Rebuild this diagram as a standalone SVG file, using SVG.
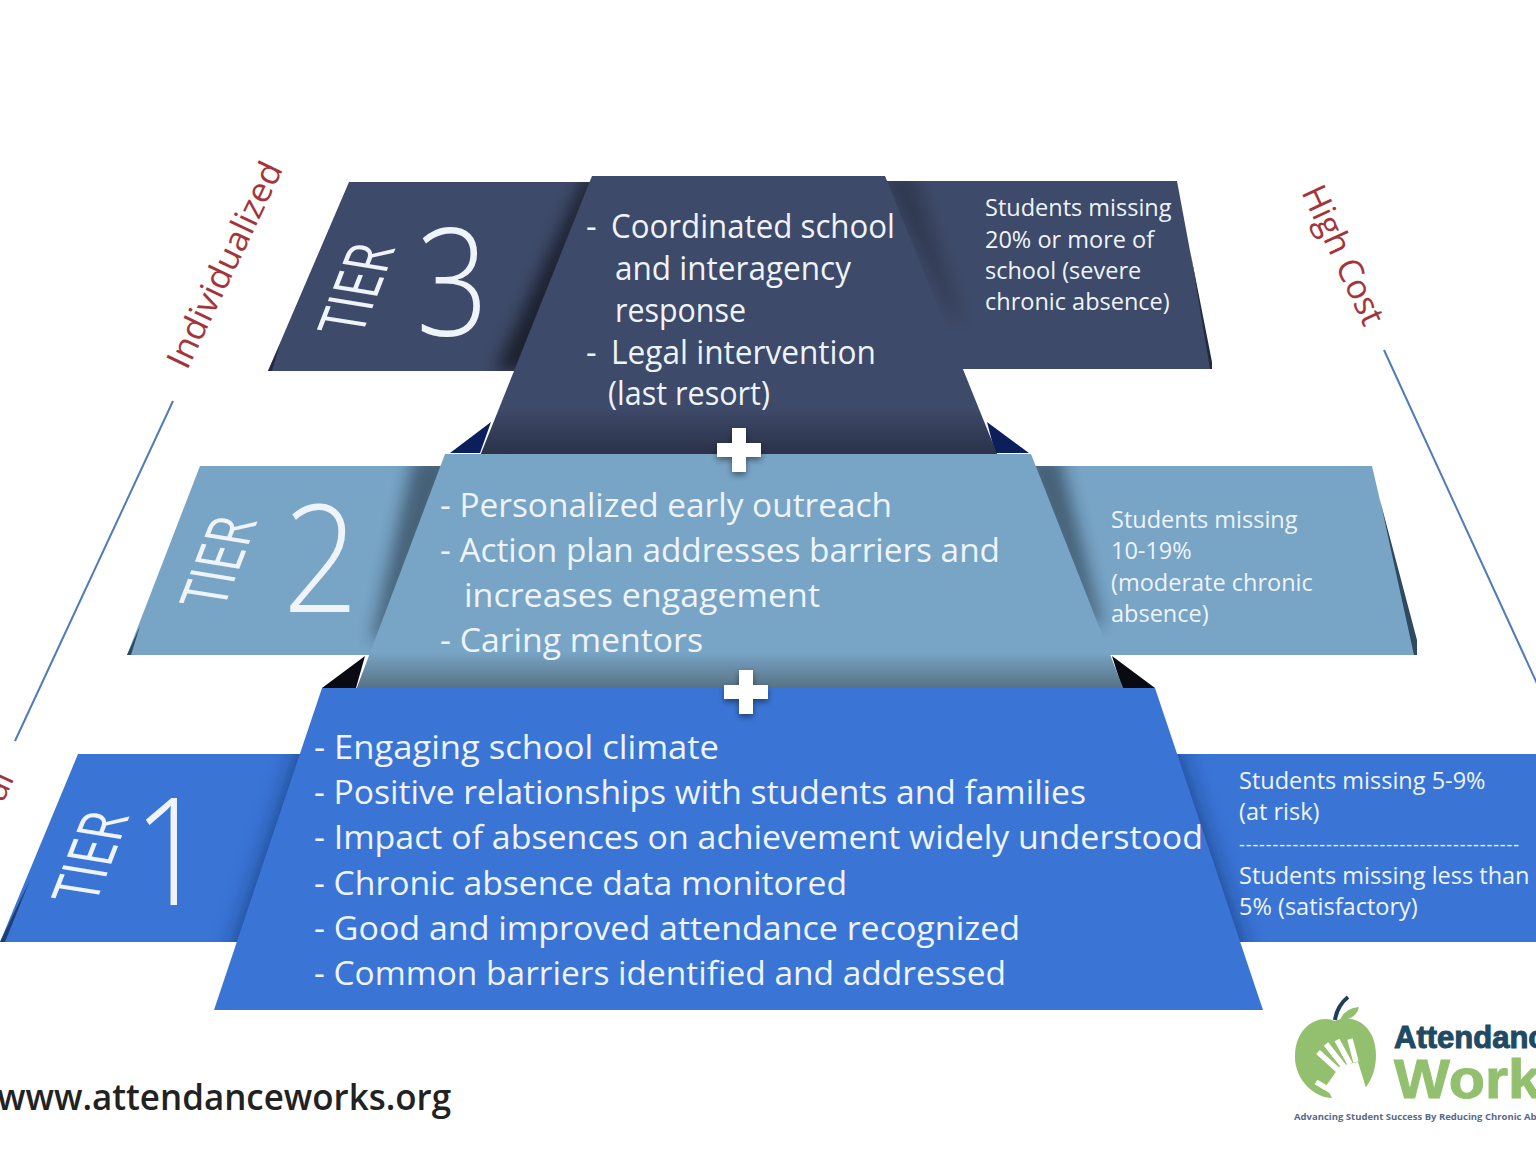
<svg xmlns="http://www.w3.org/2000/svg" width="1536" height="1152" viewBox="0 0 1536 1152">
<defs>
<style>
text{font-family:"Open Sans","Noto Sans","Liberation Sans",sans-serif;fill:#eef4fa}
.m{font-size:33px}
.s{font-size:23.5px}
.t{font-size:62px;font-weight:500}
.n{font-size:150px;font-weight:300}
.r{font-size:34px;fill:#a4343a;font-weight:400}
.w{font-size:36px;fill:#222;font-weight:600}
.ln{stroke:#4f7cb8;stroke-width:2;fill:none}
.logo{font-family:"Liberation Sans",Arial,sans-serif;font-weight:700;stroke-width:1}
.edge3{fill:#232b40}
.edge2{fill:#2f4a5e}
.edge1{fill:#1f3d72}
</style>
<linearGradient id="g3" x1="0" y1="0" x2="0" y2="1"><stop offset="0.83" stop-color="#3e4a69"/><stop offset="1" stop-color="#2a3147"/></linearGradient>
<linearGradient id="g2" x1="0" y1="0" x2="0" y2="1"><stop offset="0.84" stop-color="#78a4c6"/><stop offset="1" stop-color="#566f80"/></linearGradient>
<filter id="sh" x="-40%" y="-40%" width="180%" height="180%"><feDropShadow dx="0" dy="3" stdDeviation="3" flood-color="#000" flood-opacity="0.45"/></filter>
<filter id="bl" x="-10%" y="-10%" width="120%" height="120%"><feGaussianBlur stdDeviation="12"/></filter>
<filter id="bs" x="-50%" y="-20%" width="200%" height="140%"><feGaussianBlur stdDeviation="8"/></filter>
<clipPath id="c3"><path d="M349 182H600L530 371H268Z M885 181H1177L1212 369H950Z"/></clipPath>
<clipPath id="c2"><path d="M200 466H460L380 655H127Z M1020 466H1372L1416 655H1100Z"/></clipPath>
<clipPath id="c1"><path d="M78 754H320L260 942H0Z M1160 754H1536V942H1215Z"/></clipPath>
<path id="plus" d="M-7-22H7V-7H22V7H7V22H-7V7H-22V-7H-7Z" fill="#fff" filter="url(#sh)"/>
</defs>
<rect width="1536" height="1152" fill="#fff"/>

<g id="connectors">
<line class="ln" x1="173" y1="401" x2="15" y2="741"/>
<line class="ln" x1="1384" y1="350" x2="1540" y2="690"/>
</g>

<g id="tier3">
<path d="M349 182H600L530 371H268Z M885 181H1177L1212 369H950Z" fill="#3e4a69"/>
<path class="edge3" d="M268 371L280 344L272 371Z M1190 250L1212 362V369H1210Z"/>
<g clip-path="url(#c3)">
<path d="M585 176H600L530 371H495Z" fill="#000" opacity="0.55" filter="url(#bs)"/>
<path d="M880 176H915L960 320H955Z" fill="#000" opacity="0.22" filter="url(#bs)"/>
</g>
<path d="M450 453L491 422L480 453Z M987 422L1029 453H995Z" fill="#0b1f5c"/>
<path d="M592 176H885L998 456H480Z" fill="url(#g3)"/>
<text class="t" transform="matrix(.28 -.72 1 .16 361 337)">TIER</text>
<text class="n" transform="translate(416 336) scale(.85 1)">3</text>
<text class="m" x="586" y="238">-</text>
<text class="m" x="611" y="238" textLength="284" lengthAdjust="spacingAndGlyphs">Coordinated school</text>
<text class="m" x="615" y="280" textLength="236" lengthAdjust="spacingAndGlyphs">and interagency</text>
<text class="m" x="615" y="322" textLength="131" lengthAdjust="spacingAndGlyphs">response</text>
<text class="m" x="586" y="364">-</text>
<text class="m" x="611" y="364" textLength="265" lengthAdjust="spacingAndGlyphs">Legal intervention</text>
<text class="m" x="608" y="405" textLength="162" lengthAdjust="spacingAndGlyphs">(last resort)</text>
<text class="s" x="985" y="216">Students missing</text>
<text class="s" x="985" y="248">20% or more of</text>
<text class="s" x="985" y="279">school (severe</text>
<text class="s" x="985" y="310">chronic absence)</text>
</g>

<g id="tier2">
<path d="M200 466H460L380 655H127Z M1020 466H1372L1416 655H1100Z" fill="#78a4c6"/>
<path class="edge2" d="M127 655L140 626L131 655Z M1380 500L1417 640V655H1414Z"/>
<g clip-path="url(#c2)">
<path d="M460 456H414L372 640H385Z" fill="#1c2a38" opacity="0.55" filter="url(#bs)"/>
<path d="M1020 456H1060L1102 625H1090Z" fill="#1c2a38" opacity="0.55" filter="url(#bs)"/>
</g>
<path d="M322 688L365 656L356 688Z M1112 656L1155 688H1122Z" fill="#0a0a12"/>
<path d="M445 454H1031L1124 690H356Z" fill="url(#g2)"/>
<text class="t" transform="matrix(.28 -.72 1 .16 223 610)">TIER</text>
<text class="n" transform="translate(283 612) scale(.88 1)">2</text>
<text class="m" x="440" y="517" textLength="452" lengthAdjust="spacingAndGlyphs">- Personalized early outreach</text>
<text class="m" x="440" y="562" textLength="560" lengthAdjust="spacingAndGlyphs">- Action plan addresses barriers and</text>
<text class="m" x="464" y="607" textLength="356" lengthAdjust="spacingAndGlyphs">increases engagement</text>
<text class="m" x="440" y="652" textLength="263" lengthAdjust="spacingAndGlyphs">- Caring mentors</text>
<text class="s" x="1111" y="528">Students missing</text>
<text class="s" x="1111" y="559">10-19%</text>
<text class="s" x="1111" y="591">(moderate chronic</text>
<text class="s" x="1111" y="622">absence)</text>
</g>

<g id="tier1">
<path d="M78 754H320L260 942H0Z M1160 754H1536V942H1215Z" fill="#3a75d6"/>
<path class="edge1" d="M0 942L30 880L5 942Z"/>
<g clip-path="url(#c1)"><path d="M322 688H1155L1263 1010H214Z" fill="#0c1f44" opacity="0.6" filter="url(#bl)"/></g>
<path d="M322 688H1155L1263 1010H214Z" fill="#3a75d6"/>
<text class="t" transform="matrix(.28 -.72 1 .16 95 905)">TIER</text>
<text class="n" transform="translate(133 905) scale(.88 1)">1</text>
<text class="m" x="314" y="759" textLength="405" lengthAdjust="spacingAndGlyphs">- Engaging school climate</text>
<text class="m" x="314" y="804" textLength="772" lengthAdjust="spacingAndGlyphs">- Positive relationships with students and families</text>
<text class="m" x="314" y="849" textLength="889" lengthAdjust="spacingAndGlyphs">- Impact of absences on achievement widely understood</text>
<text class="m" x="314" y="895" textLength="533" lengthAdjust="spacingAndGlyphs">- Chronic absence data monitored</text>
<text class="m" x="314" y="940" textLength="706" lengthAdjust="spacingAndGlyphs">- Good and improved attendance recognized</text>
<text class="m" x="314" y="985" textLength="692" lengthAdjust="spacingAndGlyphs">- Common barriers identified and addressed</text>
<text class="s" x="1239" y="789">Students missing 5-9%</text>
<text class="s" x="1239" y="820">(at risk)</text>
<text class="s" x="1239" y="851" style="font-size:18px" textLength="280" lengthAdjust="spacing">------------------------------------------</text>
<text class="s" x="1239" y="884">Students missing less than</text>
<text class="s" x="1239" y="915">5% (satisfactory)</text>
</g>

<g id="plus1"><use href="#plus" x="739" y="450"/></g>
<g id="plus2"><use href="#plus" x="746" y="692"/></g>

<g id="labels">
<text class="r" transform="translate(187 371) rotate(-64.5)" textLength="224" lengthAdjust="spacingAndGlyphs">Individualized</text>
<text class="r" transform="translate(1301 192) rotate(65)" textLength="150" lengthAdjust="spacingAndGlyphs">High Cost</text>
<text class="r" transform="translate(3 803) rotate(-65)">al</text>
<text class="w" x="-3" y="1110" textLength="454" lengthAdjust="spacingAndGlyphs">www.attendanceworks.org</text>
</g>

<g id="logo">
<path d="M1335 1021C1320 1014 1296 1025 1295 1055C1294 1080 1315 1098 1332 1098L1366 1087C1379 1070 1380 1040 1365 1026C1355 1017 1343 1018 1335 1021Z" fill="#92c06e"/>
<path d="M1333 1100L1326 1086L1340 1066L1358 1062L1366 1088V1100Z" fill="#fff"/>
<path d="M1340 1072L1318 1052M1345 1068L1326 1044M1350 1064L1337 1040M1356 1062L1350 1039M1333 1092L1316 1082" stroke="#fff" stroke-width="5.5" fill="none"/>
<path d="M1335 1020Q1337 1006 1348 997" stroke="#1f3f57" stroke-width="4" fill="none"/>
<path d="M1340 1020Q1345 1008 1359 1007Q1356 1020 1340 1020Z" fill="#92c06e"/>
<text class="logo" x="1394" y="1048" style="font-size:31px;fill:#1f4a63;stroke:#1f4a63">Attendance</text>
<text class="logo" x="1394" y="1098" textLength="180" lengthAdjust="spacingAndGlyphs" style="font-size:55px;fill:#92c06e;stroke:#92c06e">Works</text>
<text x="1294" y="1120" style="font-size:9.5px;font-weight:700;fill:#5a6a88">Advancing Student Success By Reducing Chronic Absence</text>
</g>
</svg>
